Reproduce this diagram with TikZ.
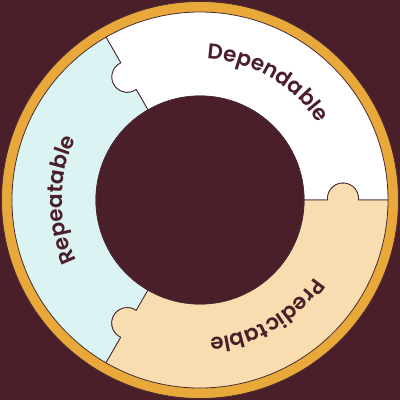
\documentclass[tikz,border=0pt]{standalone}
\usepackage{fontspec}
\setmainfont{Poppins}[UprightFont=* SemiBold]
\usetikzlibrary{decorations.text}
\definecolor{bg}{HTML}{4A1F29}
\definecolor{ringc}{HTML}{E9A93A}
\definecolor{cyanc}{HTML}{DCF3F3}
\definecolor{tanc}{HTML}{F7DDB0}
\definecolor{linec}{HTML}{4A2A33}
\definecolor{txt}{HTML}{4A1F29}
\newcommand{\labfont}{\fontsize{21.5pt}{21.5pt}\selectfont}
\tikzset{
  seg/.style={draw=linec, line width=0.8pt, line join=round},
  curvetext/.style={decorate, decoration={text along path, text align=center, text color=txt, text={|\labfont|#1}}}
}
\pgfmathsetmacro\tr{15.5}
\pgfmathsetmacro\td{1.5}
\pgfmathsetmacro\ts{sqrt(\tr*\tr-\td*\td)}
\pgfmathsetmacro\ta{atan(\td/\ts)}
\pgfmathsetmacro\tin{143-\ts}
\pgfmathsetmacro\tout{143+\ts}
\begin{document}
\begin{tikzpicture}[x=1pt,y=1pt]
\fill[bg] (-200,-200) rectangle (200,200);
\useasboundingbox (-200,-200) rectangle (200,200);
% orange ring
\filldraw[ringc, draw=linec, line width=0.8pt] (0,0) circle[radius=198.5];
% Dependable
\path[seg, fill=white] (0:188) arc[start angle=0,end angle=120,radius=188]
  -- (120:\tout) arc[start angle=120-\ta, end angle=300+\ta, radius=\tr]
  -- (120:104) arc[start angle=120, end angle=0, radius=104]
  -- (0:\tin) arc[start angle=180+\ta, end angle=-\ta, radius=\tr]
  -- cycle;
% Repeatable
\path[seg, fill=cyanc] (120:188) arc[start angle=120,end angle=240,radius=188]
  -- (240:\tout) arc[start angle=240+\ta, end angle=60-\ta, radius=\tr]
  -- (240:104) arc[start angle=240, end angle=120, radius=104]
  -- (120:\tin) arc[start angle=300+\ta, end angle=120-\ta, radius=\tr]
  -- cycle;
% Predictable
\path[seg, fill=tanc] (240:188) arc[start angle=240,end angle=360,radius=188]
  -- (0:\tout) arc[start angle=-\ta, end angle=180+\ta, radius=\tr]
  -- (0:104) arc[start angle=360, end angle=240, radius=104]
  -- (240:\tin) arc[start angle=420-\ta, end angle=600+\ta, radius=\tr]
  -- cycle;
% inner hole
\filldraw[bg, draw=linec, line width=0.8pt] (0,0) circle[radius=104];
% labels
\path[curvetext=Dependable] (110:141) arc[start angle=110, end angle=10, radius=141];
\path[curvetext=Repeatable] (230:138) arc[start angle=230, end angle=130, radius=138];
\path[curvetext=Predictable] (350:138) arc[start angle=350, end angle=250, radius=138];
\end{tikzpicture}
\end{document}
